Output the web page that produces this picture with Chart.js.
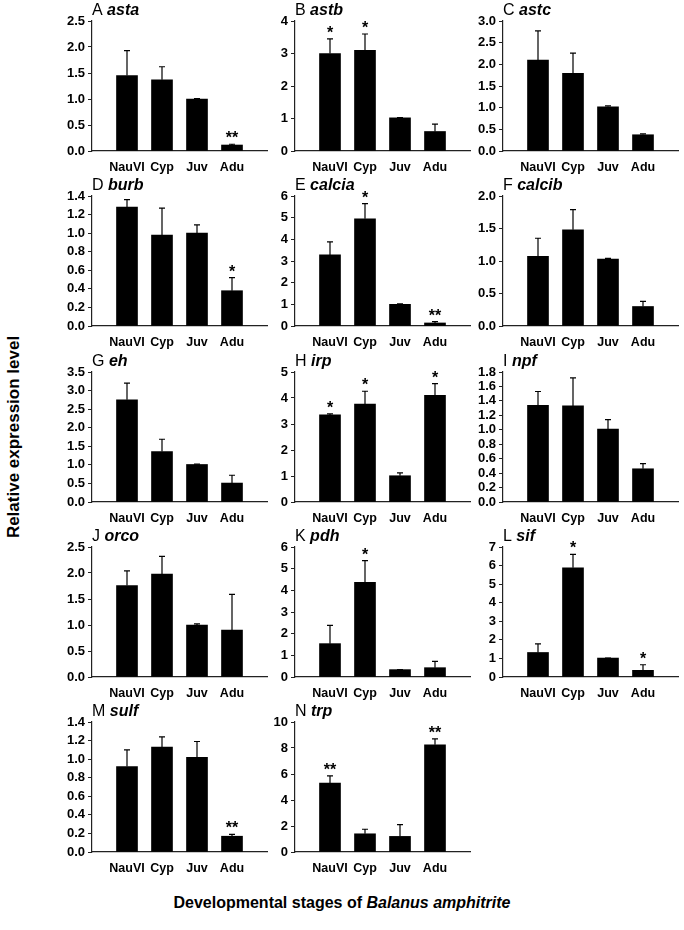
<!DOCTYPE html>
<html>
<head>
<meta charset="utf-8">
<script src="https://cdn.jsdelivr.net/npm/chart.js@4.4.0/dist/chart.umd.min.js"></script>
<style>
  body { margin: 0; background: #fff; width: 684px; height: 930px; position: relative; overflow: hidden;
         font-family: "Liberation Sans", Arial, sans-serif; color: #000; }
  canvas.panel { position: absolute; }
  #ytitle { position: absolute; left: 14px; top: 437px; transform: translate(-50%, -50%) rotate(-90deg);
            font-weight: bold; font-size: 17px; white-space: nowrap; }
  #xtitle { position: absolute; left: 0; width: 684px; top: 894px; text-align: center;
            font-weight: bold; font-size: 16px; white-space: nowrap; }
</style>
</head>
<body>
<div id="ytitle">Relative expression level</div>
<div id="xtitle">Developmental stages of <i>Balanus amphitrite</i></div>
<script>
// categories
const stages = ["NauVI", "Cyp", "Juv", "Adu"];

// panels: letter + gene name
const letters = ["A", "B", "C", "D", "E", "F", "G", "H", "I", "J", "K", "L", "M", "N"];
const genes = ["asta", "astb", "astc", "burb", "calcia", "calcib", "eh", "irp", "npf", "orco", "pdh", "sif", "sulf", "trp"];

// mean values (relative expression), order: NauVI, Cyp, Juv, Adu
const asta   = [1.45, 1.37, 1.00, 0.115];
const astb   = [3.00, 3.10, 1.02, 0.60];
const astc   = [2.10, 1.79, 1.02, 0.375];
const burb   = [1.28, 0.98, 1.00, 0.38];
const calcia = [3.28, 4.95, 1.00, 0.14];
const calcib = [1.07, 1.48, 1.03, 0.30];
const eh     = [2.75, 1.36, 1.01, 0.51];
const irp    = [3.35, 3.77, 1.01, 4.10];
const npf    = [1.34, 1.33, 1.01, 0.46];
const orco   = [1.76, 1.98, 1.00, 0.90];
const pdh    = [1.54, 4.37, 0.34, 0.43];
const sif    = [1.32, 5.88, 1.02, 0.36];
const sulf   = [0.92, 1.13, 1.02, 0.17];
const trp    = [5.30, 1.40, 1.20, 8.25];

// standard errors (upper error bar length)
const astaErr   = [0.48, 0.25, 0.01, 0.015];
const astbErr   = [0.45, 0.50, 0.01, 0.23];
const astcErr   = [0.67, 0.47, 0.02, 0.02];
const burbErr   = [0.08, 0.29, 0.09, 0.14];
const calciaErr = [0.60, 0.70, 0.02, 0.06];
const calcibErr = [0.28, 0.31, 0.01, 0.08];
const ehErr     = [0.45, 0.33, 0.01, 0.21];
const irpErr    = [0.04, 0.49, 0.11, 0.45];
const npfErr    = [0.19, 0.39, 0.13, 0.07];
const orcoErr   = [0.28, 0.34, 0.02, 0.69];
const pdhErr    = [0.84, 1.00, 0.00, 0.29];
const sifErr    = [0.46, 0.72, 0.00, 0.30];
const sulfErr   = [0.18, 0.11, 0.17, 0.02];
const trpErr    = [0.55, 0.35, 0.90, 0.45];

// significance marks
const astaSig   = ["", "", "", "**"];
const astbSig   = ["*", "*", "", ""];
const astcSig   = ["", "", "", ""];
const burbSig   = ["", "", "", "*"];
const calciaSig = ["", "*", "", "**"];
const calcibSig = ["", "", "", ""];
const ehSig     = ["", "", "", ""];
const irpSig    = ["*", "*", "", "*"];
const npfSig    = ["", "", "", ""];
const orcoSig   = ["", "", "", ""];
const pdhSig    = ["", "*", "", ""];
const sifSig    = ["", "*", "", "*"];
const sulfSig   = ["", "", "", "**"];
const trpSig    = ["**", "", "", "**"];

// y axis tick range per panel
const yMax  = [2.5, 4, 3.0, 1.4, 6, 2.0, 3.5, 5, 1.8, 2.5, 6, 7, 1.4, 10];
const yStep = [0.5, 1, 0.5, 0.2, 1, 0.5, 0.5, 1, 0.2, 0.5, 1, 1, 0.2, 2];

const means = [asta, astb, astc, burb, calcia, calcib, eh, irp, npf, orco, pdh, sif, sulf, trp];
const errs = [astaErr, astbErr, astcErr, burbErr, calciaErr, calcibErr, ehErr, irpErr, npfErr, orcoErr, pdhErr, sifErr, sulfErr, trpErr];
const sigs = [astaSig, astbSig, astcSig, burbSig, calciaSig, calcibSig, ehSig, irpSig, npfSig, orcoSig, pdhSig, sifSig, sulfSig, trpSig];

Chart.defaults.font.family = "'Liberation Sans', Arial, sans-serif";
Chart.defaults.color = "#000";

// layout of the grid
const colX = [92, 295, 503];   // y axis position of each column
const rowY = [21, 196, 372, 547, 722]; // top of plot in each row
const AXIS_W = 45, PAD_TOP = 22, PLOT_H = 130, XAXIS_H = 35, PLOT_W = 175, PAD_R = 10;

// draws error bars, asterisks and the panel title
const panelExtras = {
  id: "panelExtras",
  afterDatasetsDraw(chart, args, opts) {
    const ctx = chart.ctx;
    const ys = chart.scales.y;
    const meta = chart.getDatasetMeta(0);
    const ds = chart.data.datasets[0];
    ctx.save();
    ctx.strokeStyle = "#000";
    ctx.lineWidth = 1.2;
    meta.data.forEach((bar, i) => {
      const v = ds.data[i].y;
      const top = ys.getPixelForValue(v + opts.err[i]);
      const base = ys.getPixelForValue(v);
      ctx.beginPath();
      ctx.moveTo(bar.x, base);
      ctx.lineTo(bar.x, top);
      ctx.moveTo(bar.x - 3, top);
      ctx.lineTo(bar.x + 3, top);
      ctx.stroke();
      if (opts.sig[i]) {
        ctx.fillStyle = "#000";
        ctx.font = "bold 16px 'Liberation Sans', Arial, sans-serif";
        ctx.textAlign = "center";
        ctx.textBaseline = "alphabetic";
        ctx.fillText(opts.sig[i], bar.x, Math.min(top, base) - 1);
      }
    });
    // title
    const a = chart.chartArea;
    ctx.textAlign = "left";
    ctx.textBaseline = "alphabetic";
    ctx.fillStyle = "#000";
    ctx.font = "16px 'Liberation Sans', Arial, sans-serif";
    const lead = opts.letter + " ";
    ctx.fillText(lead, a.left, a.top - 6);
    const w = ctx.measureText(lead).width;
    ctx.font = "italic bold 16px 'Liberation Sans', Arial, sans-serif";
    ctx.fillText(opts.gene, a.left + w, a.top - 6);
    ctx.restore();
  }
};

genes.forEach((gene, p) => {
  const col = p % 3, row = Math.floor(p / 3);
  const cv = document.createElement("canvas");
  cv.className = "panel";
  const W = AXIS_W + PLOT_W + PAD_R, H = PAD_TOP + PLOT_H + XAXIS_H;
  cv.width = W; cv.height = H;
  cv.style.width = W + "px"; cv.style.height = H + "px";
  cv.style.left = (colX[col] - AXIS_W) + "px";
  cv.style.top = (rowY[row] - PAD_TOP) + "px";
  document.body.appendChild(cv);

  const decimals = yStep[p] < 1 ? 1 : 0;

  new Chart(cv, {
    type: "bar",
    data: {
      datasets: [{
        data: means[p].map((v, i) => ({ x: i, y: v })),
        backgroundColor: "#000",
        borderWidth: 0,
        barThickness: 21
      }]
    },
    options: {
      responsive: false,
      animation: false,
      devicePixelRatio: 1,
      layout: { padding: { top: PAD_TOP, right: PAD_R, left: 0, bottom: 0 } },
      plugins: {
        legend: { display: false },
        tooltip: { enabled: false },
        panelExtras: { err: errs[p], sig: sigs[p], letter: letters[p], gene: gene }
      },
      scales: {
        x: {
          type: "linear",
          offset: false,
          min: -1,
          max: 4,
          afterBuildTicks: s => { s.ticks = stages.map((_, i) => ({ value: i })); },
          afterFit: s => { s.height = XAXIS_H; },
          grid: { display: false, drawTicks: false, offset: false },
          border: { display: true, color: "#222", width: 1.2 },
          ticks: {
            padding: 9,
            maxRotation: 0,
            autoSkip: false,
            font: { size: 12.5, weight: "bold" },
            callback: v => stages[v] ?? ""
          }
        },
        y: {
          min: 0,
          max: yMax[p],
          afterFit: s => { s.width = AXIS_W; },
          afterBuildTicks: s => {
            const n = Math.round(yMax[p] / yStep[p]);
            s.ticks = Array.from({ length: n + 1 }, (_, i) => ({ value: +(i * yStep[p]).toFixed(3) }));
          },
          grid: { drawOnChartArea: false, drawTicks: true, tickLength: 4, color: "#222" },
          border: { display: true, color: "#222", width: 1.2 },
          ticks: {
            autoSkip: false,
            padding: 3,
            font: { size: 13, weight: "bold", lineHeight: 1 },
            callback: v => v.toFixed(decimals)
          }
        }
      }
    },
    plugins: [panelExtras]
  });
});
</script>
</body>
</html>
